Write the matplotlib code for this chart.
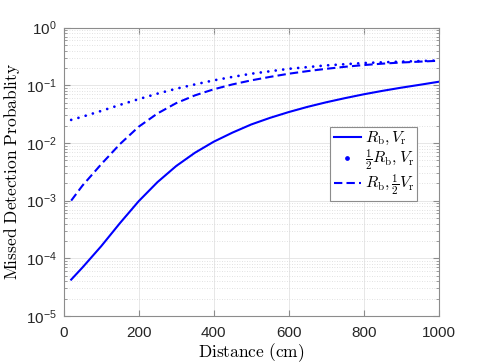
import matplotlib
matplotlib.use("Agg")
from matplotlib import pyplot as plt
from matplotlib import ticker
from matplotlib.lines import Line2D
import numpy as np

# distance (cm) and missed detection probability
dist = [20, 50, 100, 150, 200, 250, 300, 350, 400, 450, 500, 550, 600,
        650, 700, 750, 800, 850, 900, 950, 1000]
pmd_solid = [4.27e-5, 6.92e-5, 1.62e-4, 4.07e-4, 9.77e-4, 2.09e-3, 3.98e-3,
             6.76e-3, 1.05e-2, 1.51e-2, 2.09e-2, 2.72e-2, 3.43e-2, 4.22e-2,
             5.07e-2, 5.98e-2, 6.97e-2, 8.0e-2, 9.08e-2, 1.02e-1, 1.15e-1]
pmd_dashed = [1.0e-3, 1.82e-3, 4.27e-3, 9.55e-3, 1.91e-2, 3.24e-2, 4.90e-2,
              6.68e-2, 8.51e-2, 1.035e-1, 1.216e-1, 1.396e-1, 1.585e-1,
              1.758e-1, 1.928e-1, 2.09e-1, 2.24e-1, 2.37e-1, 2.48e-1,
              2.57e-1, 2.66e-1]

dist_dotted = [20, 50, 100, 150, 200, 250, 300, 350, 400, 450, 500, 600, 700,
               800, 900, 1000]
pmd_dotted = [2.51e-2, 2.85e-2, 3.59e-2, 4.57e-2, 5.75e-2, 7.16e-2, 8.71e-2,
              1.035e-1, 1.216e-1, 1.396e-1, 1.585e-1, 1.928e-1, 2.21e-1,
              2.43e-1, 2.57e-1, 2.69e-1]

labels = [r"$R_\mathrm{b}, V_\mathrm{r}$",
          r"$\frac{1}{2}R_\mathrm{b}, V_\mathrm{r}$",
          r"$R_\mathrm{b}, \frac{1}{2}V_\mathrm{r}$"]

plt.rcParams["font.family"] = ["Liberation Sans", "DejaVu Sans"]
plt.rcParams["mathtext.fontset"] = "custom"
plt.rcParams["mathtext.rm"] = "Liberation Sans"
plt.rcParams["mathtext.it"] = "Liberation Sans:italic"

fig = plt.figure(figsize=(4.85, 3.63), dpi=100)
ax = fig.add_axes([0.1313, 0.1295, 0.7732, 0.7945])

blue = (0, 0, 1)
l1, = ax.plot(dist, pmd_solid, color=blue, lw=1.5)
ax.plot(dist_dotted, pmd_dotted, color=blue, lw=2.0, linestyle=(0, (0.01, 2.7)),
        dash_capstyle="round")
l3, = ax.plot(dist, pmd_dashed, color=blue, lw=1.5, linestyle=(0, (4, 2)))
# MATLAB shows a single dot for the dotted line in the legend
dot_proxy = Line2D([], [], color=blue, ls="none", marker="o", ms=2.4)

ax.set_yscale("log")
ax.set_xlim(0, 1000)
ax.set_ylim(1e-5, 1)
ax.set_xticks(np.arange(0, 1001, 200))
ax.yaxis.set_major_locator(ticker.LogLocator(base=10, numticks=10))
ax.yaxis.set_minor_locator(ticker.LogLocator(base=10, subs=np.arange(2, 10), numticks=20))
ax.yaxis.set_minor_formatter(ticker.NullFormatter())

ax.grid(True, which="major", color="#e3e3e3", lw=0.6, ls="-")
ax.grid(True, which="minor", axis="y", color="#d8d8d8", lw=0.6, ls=(0, (1, 2)))
ax.set_axisbelow(True)

for s in ax.spines.values():
    s.set_color("#8c8c8c")
    s.set_linewidth(0.8)
ax.tick_params(which="both", direction="in", top=True, right=True,
               colors="#262626", labelsize=11)
ax.tick_params(which="major", length=4, color="#8c8c8c")
ax.tick_params(which="minor", length=2, color="#8c8c8c")
ax.tick_params(axis="x", pad=7)
ax.tick_params(axis="y", pad=5)

ax.set_xlabel(r"$\mathrm{Distance\ (cm)}$", fontsize=12.5, math_fontfamily="cm",
              labelpad=1)
ax.set_ylabel(r"$\mathrm{Missed\ Detection\ Probablity}$", fontsize=12.5,
              math_fontfamily="cm", labelpad=3)

leg = ax.legend([l1, dot_proxy, l3], labels,
                loc="upper left", bbox_to_anchor=(0.711, 0.655),
                prop={"math_fontfamily": "cm", "size": 11.5},
                handlelength=1.75, handletextpad=0.2, borderpad=0.2,
                labelspacing=0.0, borderaxespad=0, fancybox=False,
                framealpha=1, edgecolor="#8c8c8c", numpoints=1)
leg.get_frame().set_linewidth(0.8)

fig.savefig("out.png", dpi=100)
plt.close(fig)
